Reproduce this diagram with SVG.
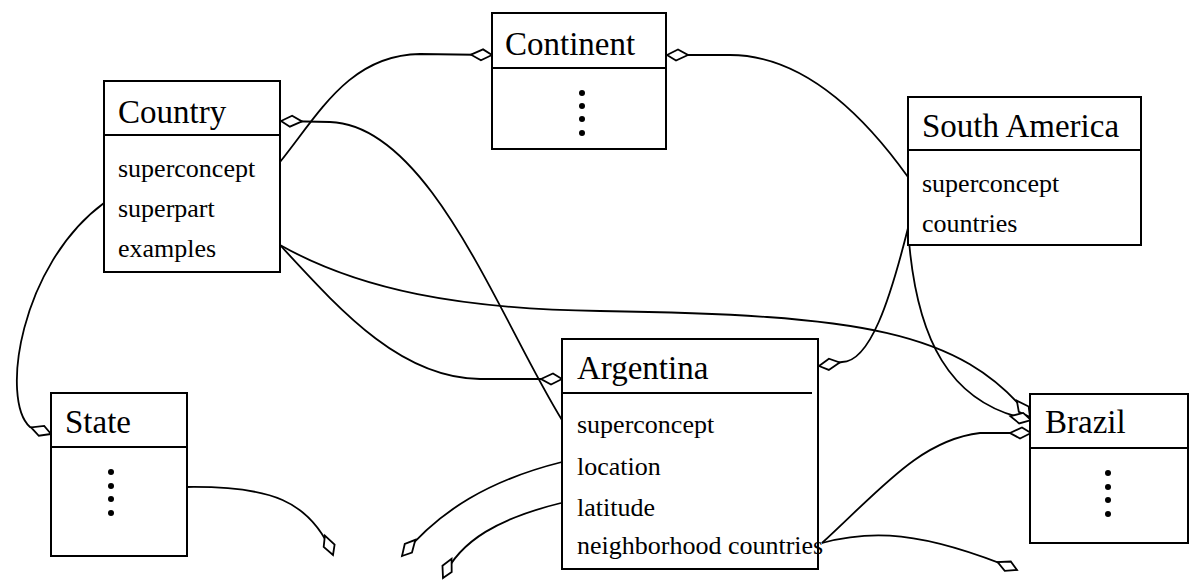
<svg xmlns="http://www.w3.org/2000/svg" width="1192" height="580" viewBox="0 0 1192 580">
<style>
.box{fill:#fff;stroke:#000;stroke-width:2}
.div{stroke:#000;stroke-width:1.8;fill:none}
.title{font-family:"Liberation Serif","Times New Roman",serif;font-size:33px;fill:#000}
.attr{font-family:"Liberation Serif","Times New Roman",serif;font-size:26px;fill:#000}
.dot{fill:#000}
.conn{fill:none;stroke:#000;stroke-width:1.8;marker-end:url(#dia)}
</style>
<defs>
<marker id="dia" markerUnits="userSpaceOnUse" markerWidth="30" markerHeight="20" viewBox="-25 -10 30 20" refX="0" refY="0" orient="auto">
<path d="M0,0 L-9,-5.5 L-21,0 L-11,5.5 Z" fill="#fff" stroke="#000" stroke-width="1.8" stroke-linejoin="miter"/>
</marker>
</defs>
<rect width="1192" height="580" fill="#fff"/>

<g id="connectors">
<path class="conn" d="M280,162 C320,112 350,55 420,54 L492,55"/>
<path class="conn" d="M562,420 C500,320 430,125 330,122 L281,121"/>
<path class="conn" d="M280,245 C340,310 400,378 480,379 L562,379"/>
<path class="conn" d="M280,245 C360,290 460,309 600,311 C860,315 960,330 1030,417"/>
<path class="conn" d="M908,177 C860,110 800,55 730,55 L667,55"/>
<path class="conn" d="M908,228 C890,300 870,362 842,362 L819,366"/>
<path class="conn" d="M908,228 C915,340 950,405 1031,420"/>
<path class="conn" d="M104,203 C20,265 0,400 30,427 L51,434"/>
<path class="conn" d="M187,487 C270,486 310,500 333,555"/>
<path class="conn" d="M562,462 C490,480 440,510 402,556"/>
<path class="conn" d="M561,503 C500,518 460,540 443,578"/>
<path class="conn" d="M822,543 C880,490 920,440 980,433 L1031,433"/>
<path class="conn" d="M822,543 C870,530 920,530 1017,570"/>
</g>

<g id="continent">
<rect class="box" x="492" y="13" width="174" height="136"/>
<line class="div" x1="492" y1="68" x2="666" y2="68"/>
<text class="title" x="505" y="55">Continent</text>
<circle class="dot" cx="582" cy="93" r="3"/>
<circle class="dot" cx="582" cy="106" r="3"/>
<circle class="dot" cx="582" cy="119" r="3"/>
<circle class="dot" cx="582" cy="133" r="3"/>
</g>

<g id="country">
<rect class="box" x="104" y="81" width="176" height="191"/>
<line class="div" x1="104" y1="135" x2="280" y2="135"/>
<text class="title" x="118" y="123">Country</text>
<text class="attr" x="118" y="177">superconcept</text>
<text class="attr" x="118" y="217">superpart</text>
<text class="attr" x="118" y="257">examples</text>
</g>

<g id="south-america">
<rect class="box" x="908" y="97" width="233" height="148"/>
<line class="div" x1="908" y1="150" x2="1141" y2="150"/>
<text class="title" x="922" y="137">South America</text>
<text class="attr" x="922" y="192">superconcept</text>
<text class="attr" x="922" y="232">countries</text>
</g>

<g id="argentina">
<rect class="box" x="562" y="339" width="256" height="230"/>
<line class="div" x1="562" y1="393" x2="812" y2="393"/>
<text class="title" x="577" y="379">Argentina</text>
<text class="attr" x="577" y="433">superconcept</text>
<text class="attr" x="577" y="475">location</text>
<text class="attr" x="577" y="516">latitude</text>
<text class="attr" x="577" y="554">neighborhood countries</text>
</g>

<g id="state">
<rect class="box" x="51" y="393" width="136" height="163"/>
<line class="div" x1="51" y1="447" x2="187" y2="447"/>
<text class="title" x="65" y="433">State</text>
<circle class="dot" cx="111" cy="472" r="3"/>
<circle class="dot" cx="111" cy="486" r="3"/>
<circle class="dot" cx="111" cy="499" r="3"/>
<circle class="dot" cx="111" cy="513" r="3"/>
</g>

<g id="brazil">
<rect class="box" x="1030" y="394" width="158" height="149"/>
<line class="div" x1="1030" y1="448" x2="1188" y2="448"/>
<text class="title" x="1045" y="433">Brazil</text>
<circle class="dot" cx="1108" cy="473" r="3"/>
<circle class="dot" cx="1108" cy="487" r="3"/>
<circle class="dot" cx="1108" cy="500" r="3"/>
<circle class="dot" cx="1108" cy="514" r="3"/>
</g>
</svg>
